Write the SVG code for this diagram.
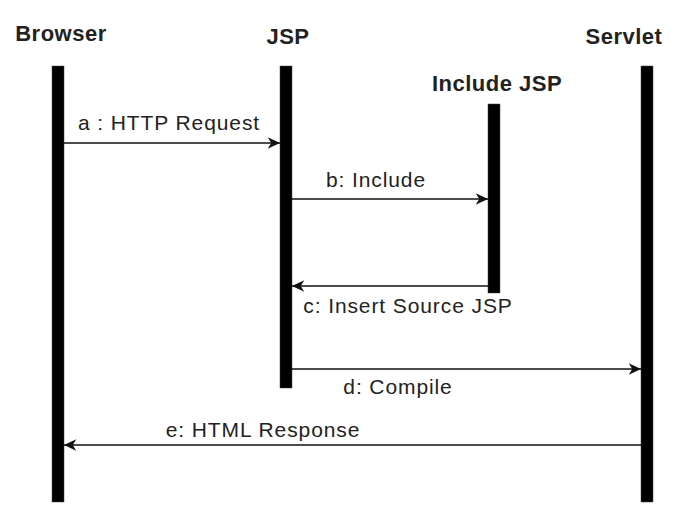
<svg xmlns="http://www.w3.org/2000/svg" width="680" height="530" viewBox="0 0 680 530">
<defs>
<style>
.head{font-family:"Liberation Sans",Arial,sans-serif;font-weight:bold;font-size:22px;letter-spacing:0.5px;fill:#222;text-anchor:middle}
.lbl{font-family:"Liberation Sans",Arial,sans-serif;font-size:21px;letter-spacing:0.9px;fill:#222;text-anchor:middle}
.life{fill:#000;stroke:#444;stroke-width:0.5}
.msg{stroke:#111;stroke-width:1.6;fill:none;marker-end:url(#arr)}
</style>
<marker id="arr" markerUnits="userSpaceOnUse" markerWidth="14" markerHeight="14" viewBox="0 0 12 12" refX="11" refY="6" orient="auto">
<path d="M0.5,1 L11,6 L0.5,11 L3.5,6 Z" fill="#111"/>
</marker>
</defs>
<rect width="680" height="530" fill="#fff"/>
<g id="browser">
<text class="head" x="61" y="41">Browser</text>
<rect class="life" x="52" y="66" width="12" height="436"/>
</g>
<g id="jsp">
<text class="head" x="288" y="44">JSP</text>
<rect class="life" x="280" y="66" width="12" height="322"/>
</g>
<g id="include-jsp">
<text class="head" x="497" y="91">Include JSP</text>
<rect class="life" x="488" y="104" width="12" height="189"/>
</g>
<g id="servlet">
<text class="head" x="624" y="44">Servlet</text>
<rect class="life" x="641" y="66" width="12" height="436"/>
</g>
<g id="connectors">
<line class="msg" x1="64" y1="143" x2="280" y2="143"/>
<text class="lbl" x="169" y="130">a : HTTP Request</text>
<line class="msg" x1="292" y1="199" x2="488" y2="199"/>
<text class="lbl" x="376" y="187">b: Include</text>
<line class="msg" x1="488" y1="286" x2="292" y2="286"/>
<text class="lbl" x="408" y="313">c: Insert Source JSP</text>
<line class="msg" x1="292" y1="369" x2="641" y2="369"/>
<text class="lbl" x="398" y="394">d: Compile</text>
<line class="msg" x1="641" y1="445" x2="64" y2="445"/>
<text class="lbl" x="263" y="437">e: HTML Response</text>
</g>
</svg>
